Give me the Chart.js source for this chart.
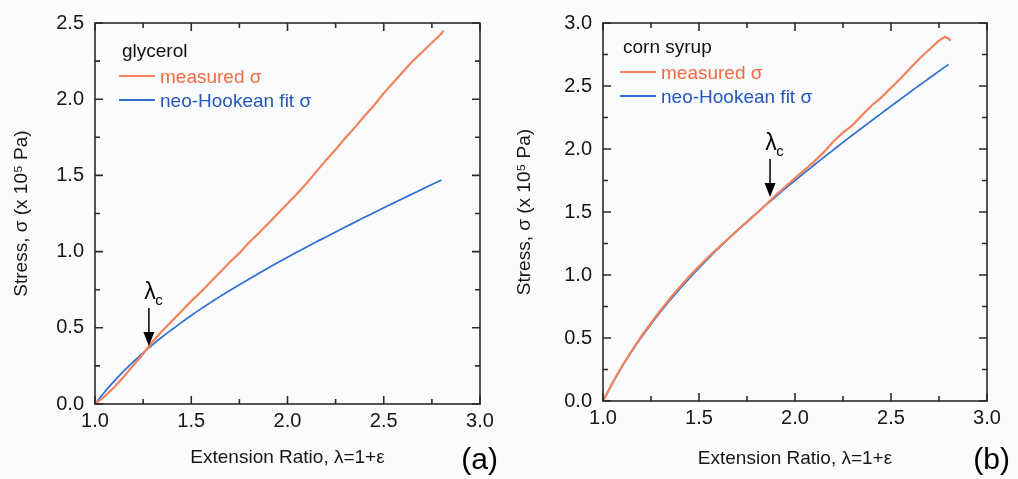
<!DOCTYPE html>
<html>
<head>
<meta charset="utf-8">
<script src="https://cdn.jsdelivr.net/npm/chart.js@4.4.1/dist/chart.umd.min.js"></script>
<style>
  html, body { margin: 0; padding: 0; background: #fafbfd; }
  #wrap { position: relative; width: 1018px; height: 479px; }
  canvas { position: absolute; top: 0; }
  #chartA { left: 0; }
  #chartB { left: 509px; }
</style>
</head>
<body>
<div id="wrap">
  <canvas id="chartA" width="509" height="479"></canvas>
  <canvas id="chartB" width="509" height="479"></canvas>
</div>
<script>
// extension ratio grid used by the neo-Hookean fits
var lambdaFit = [1.00, 1.05, 1.10, 1.15, 1.20, 1.25, 1.30, 1.35, 1.40, 1.45, 1.50, 1.55, 1.60, 1.65, 1.70, 1.75,
  1.80, 1.85, 1.90, 1.95, 2.00, 2.05, 2.10, 2.15, 2.20, 2.25, 2.30, 2.35, 2.40, 2.45, 2.50, 2.55, 2.60, 2.65, 2.70, 2.75, 2.80];

// (a) glycerol
var lambdaGly = [1.00, 1.05, 1.10, 1.15, 1.20, 1.25, 1.30, 1.35, 1.40, 1.45, 1.50, 1.55, 1.60, 1.65, 1.70, 1.75,
  1.80, 1.85, 1.90, 1.95, 2.00, 2.05, 2.10, 2.15, 2.20, 2.25, 2.30, 2.35, 2.40, 2.45, 2.50, 2.55, 2.60, 2.65, 2.70, 2.75, 2.80, 2.81];
var measuredGly = [0, 0.05, 0.11, 0.18, 0.255, 0.33, 0.41, 0.48, 0.545, 0.61, 0.675, 0.735, 0.80, 0.865, 0.93, 0.99,
  1.06, 1.12, 1.185, 1.25, 1.315, 1.38, 1.45, 1.525, 1.60, 1.67, 1.745, 1.815, 1.89, 1.96, 2.04, 2.11, 2.18, 2.25, 2.31, 2.37, 2.43, 2.45];
var fitGly = [0, 0.079, 0.150, 0.217, 0.278, 0.336, 0.390, 0.441, 0.489, 0.536, 0.581, 0.624, 0.665, 0.706, 0.745, 0.783,
  0.820, 0.857, 0.893, 0.928, 0.963, 0.997, 1.030, 1.064, 1.096, 1.129, 1.161, 1.193, 1.225, 1.256, 1.287, 1.318, 1.349, 1.379, 1.410, 1.440, 1.470];

// (b) corn syrup
var lambdaCorn = [1.00, 1.05, 1.10, 1.15, 1.20, 1.25, 1.30, 1.35, 1.40, 1.45, 1.50, 1.55, 1.60, 1.65, 1.70, 1.75,
  1.80, 1.85, 1.90, 1.95, 2.00, 2.05, 2.10, 2.15, 2.20, 2.25, 2.30, 2.35, 2.40, 2.45, 2.50, 2.55, 2.60, 2.65, 2.70, 2.75, 2.78, 2.80, 2.81];
var measuredCorn = [0, 0.145, 0.28, 0.40, 0.515, 0.62, 0.72, 0.815, 0.905, 0.99, 1.07, 1.145, 1.215, 1.285, 1.355, 1.42,
  1.49, 1.56, 1.635, 1.70, 1.77, 1.835, 1.90, 1.975, 2.06, 2.13, 2.19, 2.27, 2.345, 2.41, 2.485, 2.56, 2.64, 2.72, 2.79, 2.86, 2.89, 2.875, 2.86];
var fitCorn = [0, 0.143, 0.274, 0.394, 0.506, 0.610, 0.708, 0.801, 0.890, 0.974, 1.056, 1.134, 1.209, 1.283, 1.354, 1.424,
  1.491, 1.558, 1.623, 1.687, 1.750, 1.812, 1.873, 1.934, 1.993, 2.053, 2.111, 2.169, 2.226, 2.283, 2.340, 2.396, 2.452, 2.508, 2.563, 2.618, 2.672];

// critical stretch marked with an arrow: [lambda, stress at arrow tip]
var critGly = [1.28, 0.38];
var critCorn = [1.87, 1.62];

var xTicks = [1.0, 1.5, 2.0, 2.5, 3.0];

Chart.defaults.font.family = "'Liberation Sans', Arial, sans-serif";
Chart.defaults.color = "#161616";

var RED = "#f4825c", BLUE = "#2f6fd2";

function pts(xs, ys) {
  return ys.map(function (v, i) { return { x: xs[i], y: v }; });
}

// box with inward major/minor ticks on all four sides
var framePlugin = {
  id: "frame",
  afterDatasetsDraw: function (chart) {
    var ctx = chart.ctx, a = chart.chartArea, x = chart.scales.x, y = chart.scales.y;
    var marks = function (scale) {
      var out = [], t = scale.ticks;
      t.forEach(function (tk, i) {
        out.push([tk.value, 8]);
        if (i < t.length - 1) out.push([(tk.value + t[i + 1].value) / 2, 5]);
      });
      return out;
    };
    ctx.save();
    ctx.strokeStyle = "#2b2b2b";
    ctx.lineWidth = 1.6;
    ctx.strokeRect(a.left, a.top, a.right - a.left, a.bottom - a.top);
    ctx.beginPath();
    marks(x).forEach(function (m) {
      var px = x.getPixelForValue(m[0]);
      ctx.moveTo(px, a.bottom); ctx.lineTo(px, a.bottom - m[1]);
      ctx.moveTo(px, a.top); ctx.lineTo(px, a.top + m[1]);
    });
    marks(y).forEach(function (m) {
      var py = y.getPixelForValue(m[0]);
      ctx.moveTo(a.left, py); ctx.lineTo(a.left + m[1], py);
      ctx.moveTo(a.right, py); ctx.lineTo(a.right - m[1], py);
    });
    ctx.stroke();
    ctx.restore();
  }
};

// in-plot legend, lambda_c arrow and panel letter
var notesPlugin = {
  id: "notes",
  afterDatasetsDraw: function (chart, args, opts) {
    var ctx = chart.ctx, a = chart.chartArea, x = chart.scales.x, y = chart.scales.y;
    var font = "19px 'Liberation Sans', Arial, sans-serif";
    ctx.save();
    ctx.textBaseline = "middle";
    ctx.textAlign = "left";

    var lx = a.left + opts.legendX, ly = a.top + opts.legendY;
    ctx.font = font;
    ctx.fillStyle = "#111";
    ctx.fillText(opts.name, lx + 3, ly);
    chart.data.datasets.forEach(function (ds, i) {
      var yy = ly + 26 + i * 24;
      ctx.strokeStyle = ds.borderColor;
      ctx.lineWidth = 1.8;
      ctx.beginPath();
      ctx.moveTo(lx, yy - 2); ctx.lineTo(lx + 36, yy - 2);
      ctx.stroke();
      ctx.fillStyle = ds.labelColor;
      ctx.fillText(ds.label, lx + 41, yy);
    });

    // arrow pointing down at the critical stretch
    var tx = x.getPixelForValue(opts.crit[0]), ty = y.getPixelForValue(opts.crit[1]);
    ctx.strokeStyle = "#000";
    ctx.fillStyle = "#000";
    ctx.lineWidth = 1.5;
    ctx.beginPath();
    ctx.moveTo(tx, ty - 38); ctx.lineTo(tx, ty - 12);
    ctx.stroke();
    ctx.beginPath();
    ctx.moveTo(tx - 5.5, ty - 14); ctx.lineTo(tx + 5.5, ty - 14); ctx.lineTo(tx, ty);
    ctx.closePath();
    ctx.fill();
    ctx.font = "23px 'Liberation Sans', Arial, sans-serif";
    ctx.textAlign = "center";
    ctx.fillText("\u03bb", tx + 1, ty - 53);
    ctx.font = "15px 'Liberation Sans', Arial, sans-serif";
    ctx.fillText("c", tx + 10, ty - 45);

    ctx.font = "30px 'Liberation Sans', Arial, sans-serif";
    ctx.textAlign = "right";
    ctx.fillText(opts.tag, a.right + opts.tagX, 461);
    ctx.restore();
  }
};

function makePanel(id, xs, measured, xf, fit, yMax, yWidth, xHeight, pad, titlePadY, titlePadX, notes) {
  return new Chart(document.getElementById(id), {
    type: "scatter",
    data: {
      datasets: [
        {
          label: "measured \u03c3",
          data: pts(xs, measured),
          borderColor: RED,
          labelColor: "#f26a42",
          borderWidth: 2.2,
          showLine: true,
          pointRadius: 0,
          tension: 0
        },
        {
          label: "neo-Hookean fit \u03c3",
          data: pts(xf, fit),
          borderColor: BLUE,
          labelColor: "#2357b9",
          borderWidth: 1.7,
          showLine: true,
          pointRadius: 0,
          cubicInterpolationMode: "monotone"
        }
      ]
    },
    options: {
      responsive: false,
      animation: false,
      devicePixelRatio: 1,
      layout: { padding: pad },
      plugins: {
        legend: { display: false },
        tooltip: { enabled: false },
        notes: notes
      },
      scales: {
        x: {
          type: "linear",
          min: xTicks[0],
          max: xTicks[xTicks.length - 1],
          afterFit: function (s) { s.height = xHeight; },
          afterBuildTicks: function (s) { s.ticks = xTicks.map(function (v) { return { value: v }; }); },
          ticks: { font: { size: 20 }, padding: 5, maxRotation: 0, callback: function (v) { return v.toFixed(1); } },
          grid: { display: false, drawTicks: false },
          border: { display: false },
          title: { display: true, text: "Extension Ratio, \u03bb=1+\u03b5", font: { size: 19 }, padding: { top: 0, bottom: titlePadX } }
        },
        y: {
          min: 0,
          max: yMax,
          afterFit: function (s) { s.width = yWidth; },
          ticks: { stepSize: 0.5, font: { size: 20 }, padding: 11, callback: function (v) { return v.toFixed(1); } },
          grid: { display: false, drawTicks: false },
          border: { display: false },
          title: { display: true, text: "Stress, \u03c3 (x 10\u2075 Pa)", font: { size: 19 }, padding: { top: titlePadY, bottom: 0 } }
        }
      }
    },
    plugins: [framePlugin, notesPlugin]
  });
}

makePanel("chartA", lambdaGly, measuredGly, lambdaFit, fitGly, 2.5, 90, 75,
  { left: 5, right: 29, top: 19, bottom: 0 }, 5, 10,
  { name: "glycerol", tag: "(a)", tagX: 18, legendX: 24, legendY: 29, crit: critGly });

makePanel("chartB", lambdaCorn, measuredCorn, lambdaFit, fitCorn, 3.0, 94, 78,
  { left: 0, right: 31, top: 17, bottom: 0 }, 4, 9,
  { name: "corn syrup", tag: "(b)", tagX: 23, legendX: 17, legendY: 25, crit: critCorn });
</script>
</body>
</html>
